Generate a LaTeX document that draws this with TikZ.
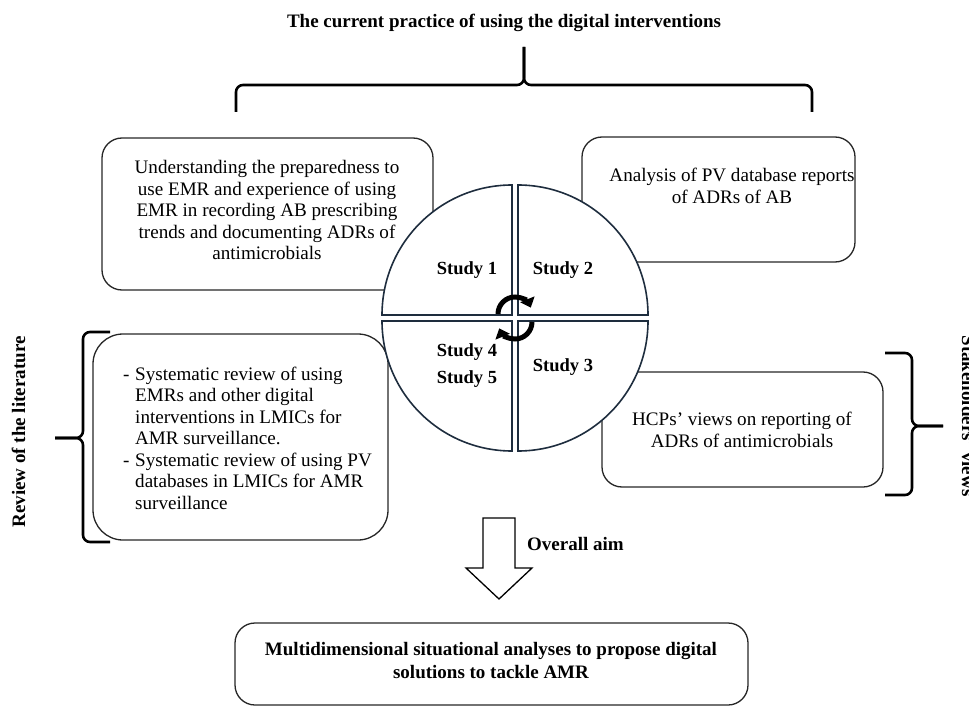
\documentclass[tikz,border=0pt]{standalone}
\usepackage{fontspec}
\setmainfont{Liberation Serif}
\usetikzlibrary{arrows.meta}

\begin{document}
\begin{tikzpicture}[x=1pt,y=1pt,
  box/.style={draw=black!85,line width=1.3pt,rounded corners=20pt},
  quad/.style={draw={rgb,255:red,30;green,45;blue,62},line width=1.6pt,fill=white},
  brace/.style={line width=2.6pt,rounded corners=7pt},
  body/.style={font=\fontsize{19.1}{21.5}\selectfont,align=center,inner sep=0pt},
  head/.style={font=\bfseries\fontsize{19}{23}\selectfont,align=center,inner sep=0pt},
  study/.style={font=\bfseries\fontsize{18.5}{27}\selectfont,align=center,inner sep=0pt},
  cyclearrow/.style={line width=5pt,-{Triangle[width=15pt,length=9pt]}}]
  \clip (0,0) rectangle (969,-706);

  % title and top brace
  \node[head] (title) at (504,-23) {The current practice of using the digital interventions};
  \draw[brace] (236,-112) -- (236,-85) -- (524,-85) -- (524,-47);
  \draw[brace] (524,-47) -- (524,-85) -- (812,-85) -- (812,-112);

  % boxes
  \draw[box] (102,-138) rectangle (433,-290);
  \draw[box] (582,-137) rectangle (855,-262);
  \draw[box] (602,-372) rectangle (883,-487);
  \draw[box,rounded corners=30pt] (93,-334) rectangle (388,-540);
  \draw[box] (235,-623) rectangle (748,-705);

  \node[body] (emr) at (267,-210) {Understanding the preparedness to\\use EMR and experience of using\\EMR in recording AB prescribing\\trends and documenting ADRs of\\antimicrobials};
  \node[body] (pv) at (732,-186) {Analysis of PV database reports\\of ADRs of AB};
  \node[body] (hcp) at (742,-430) {HCPs’ views on reporting of\\ADRs of antimicrobials};
  \node[body,align=left,anchor=west] (rev) at (123,-438) {\makebox[12pt][l]{-}Systematic review of using\\
    \hspace*{12pt}EMRs and other digital\\
    \hspace*{12pt}interventions in LMICs for\\
    \hspace*{12pt}AMR surveillance.\\
    \makebox[12pt][l]{-}Systematic review of using PV\\
    \hspace*{12pt}databases in LMICs for AMR\\
    \hspace*{12pt}surveillance};

  % circle of studies
  \foreach \dx/\dy/\a in {3/3/0,-3/3/90,-3/-3/180,3/-3/270}
    \draw[quad] (515+\dx,-318+\dy) -- ++(\a:130pt) arc[start angle=\a,end angle=\a+90,radius=130pt] -- cycle;
  \node[study] (s1) at (467,-270) {Study 1};
  \node[study] (s2) at (563,-270) {Study 2};
  \node[study] (s3) at (563,-367) {Study 3};
  \node[study] (s45) at (467,-366) {Study 4\\Study 5};
  \draw[cyclearrow] (498,-314) arc[start angle=180,end angle=22,radius=17pt];
  \draw[cyclearrow] (532,-322) arc[start angle=0,end angle=-158,radius=17pt];

  % side braces and labels
  \draw[brace] (110,-332) -- (83,-332) -- (83,-438) -- (55,-438);
  \draw[brace] (55,-438) -- (83,-438) -- (83,-542) -- (110,-542);
  \node[head,rotate=90,anchor=base] (lit) at (25,-432) {Review of the literature};
  \draw[brace] (885,-353) -- (912,-353) -- (912,-426) -- (943,-426);
  \draw[brace] (943,-426) -- (912,-426) -- (912,-495) -- (885,-495);
  \node[head,rotate=-90,anchor=base] (stake) at (962,-416) {Stakeholders’ views};

  % overall aim
  \draw[line width=1.3pt,fill=white] (483,-518) -- (515,-518) -- (515,-568) -- (532,-568)
    -- (499,-599) -- (466,-568) -- (483,-568) -- cycle;
  \node[head,anchor=west] (aim) at (527,-544) {Overall aim};
  \node[head] (goal) at (491,-661) {Multidimensional situational analyses to propose digital\\solutions to tackle AMR};
\end{tikzpicture}
\end{document}
